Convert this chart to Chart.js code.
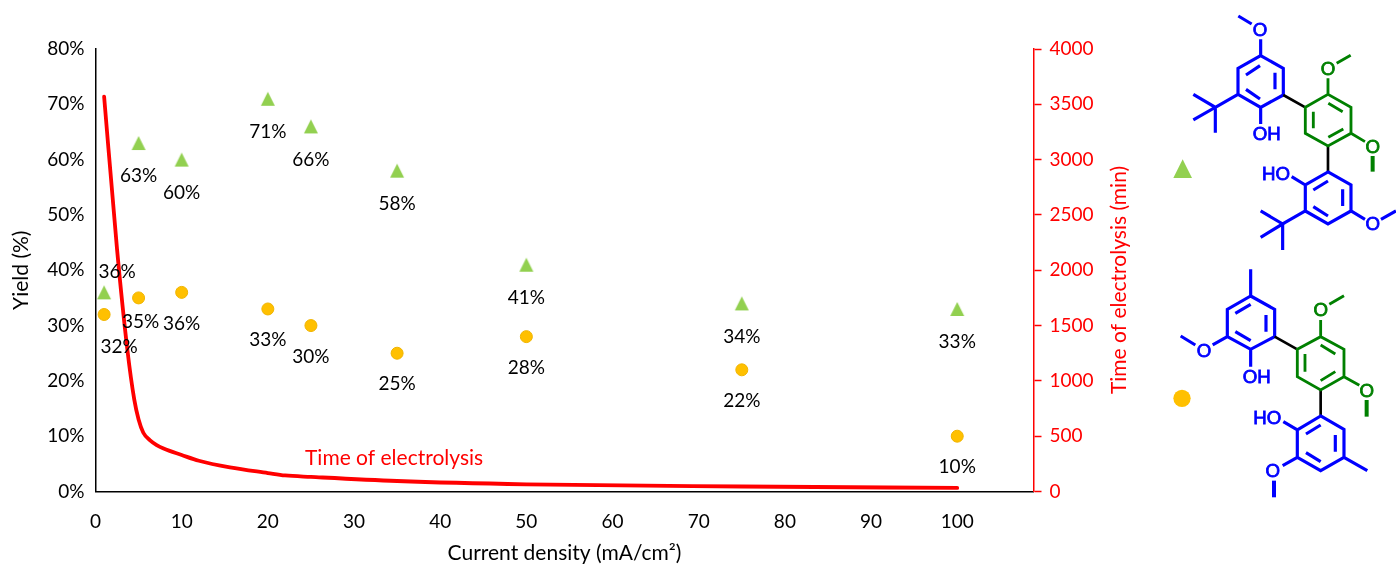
<!DOCTYPE html>
<html>
<head>
<meta charset="utf-8">
<title>Yield and electrolysis time</title>
<script src="https://cdn.jsdelivr.net/npm/chart.js@4"></script>
<style>
    html, body { margin: 0; padding: 0; background: #fff; overflow: hidden; }
    #wrap { position: relative; width: 1396px; height: 564px; }
    #yieldChart, #molecules { position: absolute; left: 0; top: 0; }
    #molecules text { font-family: "Liberation Sans", Arial, sans-serif; font-size: 56px; text-anchor: middle; dominant-baseline: central; stroke-width: 2.5; }
    .blue { stroke: #0000ff; fill: none; stroke-width: 9.5; }
    .green { stroke: #008000; fill: none; stroke-width: 8.5; }
    .black { stroke: #000; fill: none; stroke-width: 8; }
    text.blue { fill: #0000ff; stroke: #0000ff; }
    text.green { fill: #008000; stroke: #008000; }
</style>
</head>
<body>
<div id="wrap">
<canvas id="yieldChart" width="1396" height="564"></canvas>
<svg id="molecules" width="1396" height="564" viewBox="0 0 1396 564">
    <!-- top compound, drawn in 3x units -->
    <g transform="translate(1150,0) scale(0.3333)">
        <path class="blue" d="M332 167L400 205V285L332 322L264 283V205ZM288 225L330 197M375 218V268M288 268L330 297M332 167V118M305 72L265 48M264 283L196 322M130 283L196 322L130 360M196 322V398M332 322V372"/>
        <text class="blue" x="330" y="90">O</text>
        <text class="blue" x="350" y="402">OH</text>
        <path class="black" d="M400 285L466 322M534 438V516"/>
        <path class="green" d="M466 322L534 283L603 322V400L534 438L466 400ZM490 335V385M535 310L578 335M535 412L580 387M534 283V235M560 190L602 166M603 400L645 425"/>
        <path class="green" style="stroke-width:12" d="M668 468V515"/>
        <text class="green" x="534" y="205">O</text>
        <text class="green" x="668" y="440">O</text>
        <path class="blue" d="M534 516L603 555V633L534 672L466 633V555ZM490 570L534 543M578 568V618M490 620L534 648M466 555L425 530M466 633L398 672M332 633L398 672L332 712M398 672V750M603 633L645 658M693 658L738 633"/>
        <text class="blue" x="378" y="520">HO</text>
        <text class="blue" x="668" y="672">O</text>
        <path d="M98 478L126 534H70Z" fill="#92d050"/>
    </g>
    <!-- bottom compound -->
    <g transform="translate(1150,260) scale(0.3333)">
        <path class="blue" d="M302 108L374 148V230L302 268L232 230V148ZM256 160L302 133M348 165V215M256 215L302 242M302 108V28M232 230L188 255M136 255L92 228M302 268V320"/>
        <text class="blue" x="162" y="272">O</text>
        <text class="blue" x="320" y="350">OH</text>
        <path class="black" d="M374 230L442 268M512 390V468"/>
        <path class="green" d="M442 268L512 230L582 268V350L512 390L442 350ZM465 282V335M512 255L556 282M512 362L556 335M512 230V180M538 133L582 107M582 350L628 376"/>
        <path class="green" style="stroke-width:12" d="M650 420V470"/>
        <text class="green" x="512" y="150">O</text>
        <text class="green" x="650" y="392">O</text>
        <path class="blue" d="M512 468L582 508V592L512 632L442 592V510ZM468 522L512 495M556 525V575M468 578L512 605M442 510L400 485M442 592L398 617M582 592L652 632"/>
        <path class="blue" style="stroke-width:12" d="M372 662V712"/>
        <text class="blue" x="352" y="472">HO</text>
        <text class="blue" x="368" y="632">O</text>
        <circle cx="96" cy="415" r="26" fill="#ffc000"/>
    </g>
</svg>
</div>
<script>
const FONT = 'Lato, "Open Sans", sans-serif';
const FONT_SIZE = 19;
const TITLE_SIZE = 21;

const currentDensity = [1, 5, 10, 20, 25, 35, 50, 75, 100];
const yieldTriangle = [36, 63, 60, 71, 66, 58, 41, 34, 33];
const yieldCircle = [32, 35, 36, 33, 30, 25, 28, 22, 10];
const timeDensity = [1, 2.5, 3.7, 4.5, 5, 5.55, 6.3, 7.1, 7.9, 10, 12, 15.6, 20, 22, 25, 35, 50, 75, 100];
const timeMinutes = [3570, 2190, 1280, 830, 650, 531, 465, 420, 388, 330, 278, 218, 167, 145, 132, 95, 65, 45, 32];

const xTicks = [0, 10, 20, 30, 40, 50, 60, 70, 80, 90, 100];
const yieldTicks = [0, 10, 20, 30, 40, 50, 60, 70, 80];
const timeTicks = [0, 500, 1000, 1500, 2000, 2500, 3000, 3500, 4000];

function pairs(xs, ys) {
    return xs.map(function (x, i) { return { x: x, y: ys[i] }; });
}

// Excel style triangle, a bit taller than the built in one
function triangleMarker() {
    const c = document.createElement("canvas");
    c.width = 16;
    c.height = 16;
    const g = c.getContext("2d");
    g.fillStyle = "#92d050";
    g.beginPath();
    g.moveTo(8, 1);
    g.lineTo(15, 15);
    g.lineTo(1, 15);
    g.closePath();
    g.fill();
    return c;
}

// labels that don't sit straight under their point
const triangleShift = { 0: [13, -21] };
const circleShift = { 0: [15, 32], 1: [2, 24] };

const pointLabels = {
    id: "pointLabels",
    afterDatasetsDraw(chart) {
        const c = chart.ctx;
        const xs = chart.scales.x, ys = chart.scales.y;
        c.save();
        c.font = FONT_SIZE + "px " + FONT;
        c.fillStyle = "#000";
        c.textAlign = "center";
        c.textBaseline = "middle";
        currentDensity.forEach(function (d, i) {
            const a = triangleShift[i] || [0, 33];
            c.fillText(yieldTriangle[i] + "%", xs.getPixelForValue(d) + a[0], ys.getPixelForValue(yieldTriangle[i]) + a[1]);
            const b = circleShift[i] || [0, 31];
            c.fillText(yieldCircle[i] + "%", xs.getPixelForValue(d) + b[0], ys.getPixelForValue(yieldCircle[i]) + b[1]);
        });
        // line name and right axis title
        c.font = TITLE_SIZE + "px " + FONT;
        c.fillStyle = "#ff0000";
        c.textAlign = "left";
        c.fillText("Time of electrolysis", 305, 458);
        c.translate(1119, 280);
        c.rotate(-Math.PI / 2);
        c.textAlign = "center";
        c.fillText("Time of electrolysis (min)", 0, 0);
        c.restore();
    }
};

new Chart(document.getElementById("yieldChart"), {
    type: "scatter",
    data: {
        datasets: [
            {
                label: "Time of electrolysis",
                data: pairs(timeDensity, timeMinutes),
                yAxisID: "y1",
                showLine: true,
                borderColor: "#ff0000",
                borderWidth: 3.8,
                borderCapStyle: "round",
                cubicInterpolationMode: "monotone",
                pointRadius: 0,
                order: 3
            },
            {
                label: "Triangle",
                data: pairs(currentDensity, yieldTriangle),
                yAxisID: "y",
                pointStyle: triangleMarker(),
                order: 1
            },
            {
                label: "Circle",
                data: pairs(currentDensity, yieldCircle),
                yAxisID: "y",
                pointStyle: "circle",
                pointRadius: 6,
                backgroundColor: "#ffc000",
                borderColor: "#f0b400",
                order: 2
            }
        ]
    },
    options: {
        responsive: false,
        animation: false,
        layout: { padding: { top: 49 } },
        plugins: { legend: { display: false }, tooltip: { enabled: false } },
        scales: {
            x: {
                type: "linear",
                min: 0,
                max: 108.85,
                afterBuildTicks(s) { s.ticks = xTicks.map(function (v) { return { value: v }; }); },
                afterFit(s) { s.height = 72.5; },
                grid: { drawOnChartArea: false, drawTicks: false },
                border: { color: "#000", width: 1.5 },
                ticks: { color: "#000", padding: 19, maxRotation: 0, font: { family: FONT, size: FONT_SIZE } },
                title: { display: true, text: "Current density (mA/cm²)", color: "#000", padding: { top: 10, bottom: 0 }, font: { family: FONT, size: TITLE_SIZE, lineHeight: 1 } }
            },
            y: {
                min: 0,
                max: 80,
                afterBuildTicks(s) { s.ticks = yieldTicks.map(function (v) { return { value: v }; }); },
                afterFit(s) { s.width = 95.5; },
                grid: { drawOnChartArea: false, drawTicks: false },
                border: { color: "#000", width: 1.5 },
                ticks: {
                    color: "#000",
                    padding: 11,
                    font: { family: FONT, size: FONT_SIZE },
                    callback(v) { return v + "%"; }
                },
                title: { display: true, text: "Yield (%)", color: "#000", padding: { top: 9, bottom: 0 }, font: { family: FONT, size: TITLE_SIZE } }
            },
            y1: {
                position: "right",
                min: 0,
                max: 4000,
                afterBuildTicks(s) { s.ticks = timeTicks.map(function (v) { return { value: v }; }); },
                afterFit(s) { s.width = 362.5; },
                grid: { drawOnChartArea: false, drawTicks: true, tickLength: 8, tickColor: "#ff0000", tickWidth: 1.5 },
                border: { color: "#ff0000", width: 1.5 },
                ticks: {
                    color: "#ff0000",
                    padding: 8,
                    font: { family: FONT, size: FONT_SIZE },
                    callback(v) { return String(v); }
                }
            }
        }
    },
    plugins: [pointLabels]
});
</script>
</body>
</html>
